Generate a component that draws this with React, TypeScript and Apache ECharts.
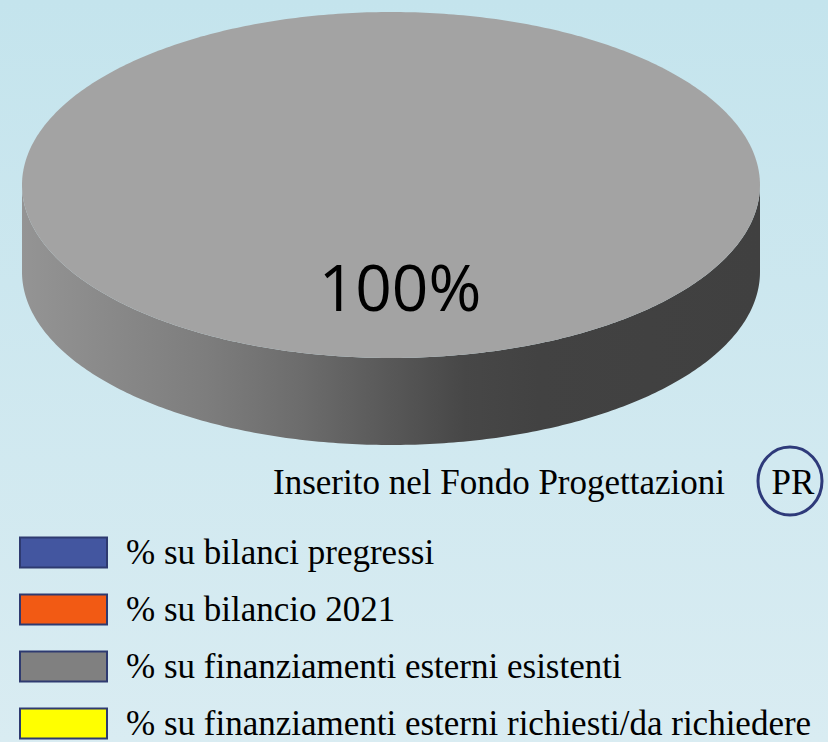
import React, { useEffect, useRef } from "react";
import * as echarts from "echarts";

// ---- data ----
const categories: string[] = [
  "% su bilanci pregressi",
  "% su bilancio 2021",
  "% su finanziamenti esterni esistenti",
  "% su finanziamenti esterni richiesti/da richiedere",
];
const values: number[] = [0, 0, 100, 0];
const legendColors: string[] = ["#4356a0", "#f25a14", "#808080", "#ffff00"];
const topColors: string[] = ["#5468b4", "#f8703a", "#a3a3a3", "#ffff5a"];
const sideStops: string[][] = [
  ["#5a6cb0", "#34427e"],
  ["#f77a40", "#b8400a"],
  ["#949494", "#7d7d7d", "#6c6c6c", "#565656", "#474747", "#424242", "#404040"],
  ["#ffff70", "#c8c800"],
];
const noteText = "Inserito nel Fondo Progettazioni";
const badgeText = "PR";

// ---- geometry / style ----
const CX = 391;
const CY = 185;
const RX = 369;
const RY = 173;
const DEPTH = 87;
const START = -Math.PI / 2;
const LABEL_R = 0.6;
const LABEL_DX = 9;

const total = values.reduce((a, b) => a + b, 0);

function sliceAngles(i: number): [number, number] {
  let before = 0;
  for (let k = 0; k < i; k++) before += values[k];
  const a0 = START + (before / total) * 2 * Math.PI;
  const a1 = a0 + (values[i] / total) * 2 * Math.PI;
  return [a0, a1];
}

function sideFill(i: number) {
  const stops = sideStops[i];
  return {
    type: "linear",
    x: CX - RX,
    y: 0,
    x2: CX + RX,
    y2: 0,
    global: true,
    colorStops: stops.map((c, k) => {
      const offs = stops.length === 7 ? [0, 0.25, 0.38, 0.51, 0.6, 0.7, 1] : [0, 1];
      return { offset: offs[k], color: c };
    }),
  };
}

const makeRender = (i: number) => (params: any, api: any) => {
  const v = api.value(0);
  if (!v) return { type: "group", children: [] };
  const [a0, a1] = sliceAngles(i);
  const pt = (t: number, dy = 0) => [CX + RX * Math.cos(t), CY + RY * Math.sin(t) + dy];
  const children: any[] = [];
  for (let k = -1; k <= 2; k++) {
    const s = Math.max(a0, 2 * Math.PI * k);
    const e = Math.min(a1, 2 * Math.PI * k + Math.PI);
    if (e > s) {
      const n = Math.max(2, Math.ceil((e - s) / (Math.PI / 240)));
      const pts: number[][] = [];
      for (let j = 0; j <= n; j++) pts.push(pt(s + ((e - s) * j) / n));
      for (let j = n; j >= 0; j--) pts.push(pt(s + ((e - s) * j) / n, DEPTH));
      children.push({ type: "polygon", shape: { points: pts }, style: { fill: sideFill(i) }, z2: 1 });
    }
  }
  const full = a1 - a0 >= 2 * Math.PI - 1e-9;
  const top: number[][] = [];
  if (!full) top.push([CX, CY]);
  const nt = Math.max(2, Math.ceil((a1 - a0) / (Math.PI / 240)));
  for (let j = 0; j <= nt; j++) top.push(pt(a0 + ((a1 - a0) * j) / nt));
  children.push({ type: "polygon", shape: { points: top }, style: { fill: topColors[i] }, z2: 5 });
  const mid = (a0 + a1) / 2;
  children.push({
    type: "text",
    x: CX + LABEL_R * RX * Math.cos(mid) + LABEL_DX,
    y: CY + LABEL_R * RY * Math.sin(mid) - 2,
    style: {
      text: Math.round((v / total) * 100) + "%",
      fill: "#000",
      fontSize: 64,
      fontFamily: "Open Sans",
      align: "center",
      verticalAlign: "middle",
    },
    z2: 10,
  });
  return { type: "group", children };
};

export default function App() {
  const ref = useRef<HTMLDivElement>(null);
  useEffect(() => {
    if (!ref.current) return;
    const chart = echarts.init(ref.current, undefined, { renderer: "svg" });
    chart.setOption({
      animation: false,
      backgroundColor: "transparent",
      legend: {
        orient: "vertical",
        left: 14,
        top: 530,
        height: 260,
        icon: "rect",
        itemWidth: 87,
        itemHeight: 30,
        itemGap: 22,
        selectedMode: false,
        data: categories,
        itemStyle: { borderColor: "#2e3a70", borderWidth: 2 },
        textStyle: {
          color: "#000",
          fontFamily: "Liberation Serif",
          fontSize: 35,
          lineHeight: 30,
          padding: [0, 0, 0, 14],
        },
      },
      graphic: [
        {
          type: "text",
          x: 273,
          y: 482,
          style: {
            text: noteText,
            fill: "#000",
            fontFamily: "Liberation Serif",
            fontSize: 35,
            align: "left",
            verticalAlign: "middle",
          },
        },
        {
          type: "ellipse",
          shape: { cx: 790, cy: 481, rx: 32, ry: 34 },
          style: { fill: "none", stroke: "#2e3a7a", lineWidth: 3 },
        },
        {
          type: "text",
          x: 793,
          y: 482,
          style: {
            text: badgeText,
            fill: "#000",
            fontFamily: "Liberation Serif",
            fontSize: 35,
            align: "center",
            verticalAlign: "middle",
          },
        },
      ],
      series: categories.map((name, i) => ({
        type: "custom",
        name,
        coordinateSystem: "none",
        silent: true,
        itemStyle: { color: legendColors[i] },
        data: [[values[i]]],
        renderItem: makeRender(i),
      })),
    });
    return () => chart.dispose();
  }, []);
  return (
    <div
      ref={ref}
      style={{
        position: "absolute",
        left: 0,
        top: 0,
        width: 828,
        height: 742,
        background: "linear-gradient(to bottom, #c4e4ed 0%, #d9ecf2 100%)",
      }}
    />
  );
}
